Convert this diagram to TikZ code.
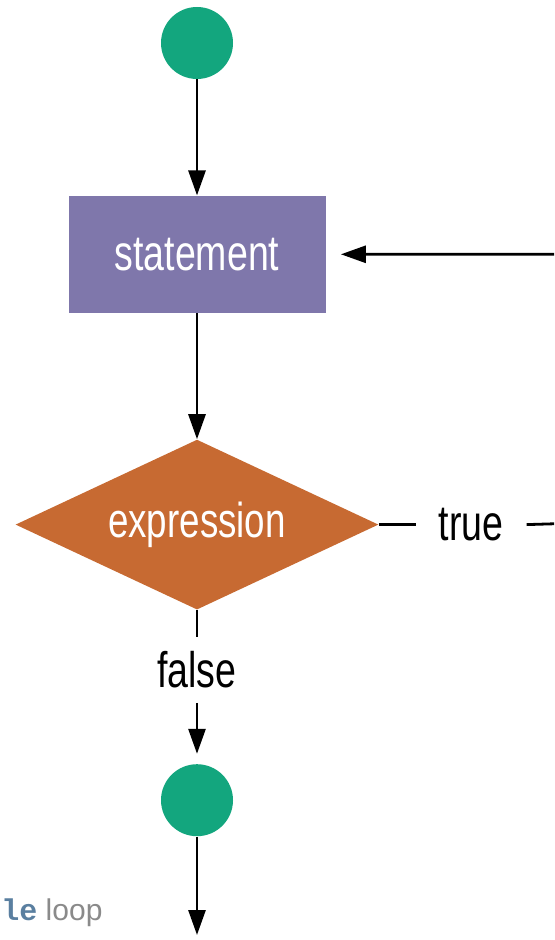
\documentclass[tikz,border=0pt]{standalone}
\usepackage{fontspec}
\setmainfont{Liberation Sans}[FakeStretch=0.75]
\newfontfamily\capfont{Liberation Sans}
\newfontfamily\codefont{Liberation Mono}
\usetikzlibrary{shapes.geometric, arrows.meta, positioning, calc}
\definecolor{colorTerm}{HTML}{13A67E}
\definecolor{colorStmt}{HTML}{7F77AB}
\definecolor{colorDec}{HTML}{C76A32}
\definecolor{colorCodigo}{HTML}{5A7FA0}
\definecolor{colorCaption}{HTML}{8A8A8A}
\begin{document}
\begin{tikzpicture}[
        x=1pt, y=1pt,
        term/.style={circle, fill=colorTerm, minimum size=36pt, inner sep=0pt},
        stmtbox/.style={rectangle, fill=colorStmt, text=white, minimum width=128.5pt,
            minimum height=58.5pt, font=\fontsize{25}{29}\selectfont},
        decision/.style={diamond, fill=colorDec, text=white, aspect=2.1, inner sep=0pt,
            minimum width=181.5pt, minimum height=85pt, font=\fontsize{24.5}{28}\selectfont},
        lbl/.style={inner sep=0pt, font=\fontsize{25}{29}\selectfont},
        rel/.style={-{Triangle[length=12.5pt,width=8.5pt]}, line width=1.4pt},
        seg/.style={line width=1.4pt}
    ]
        \clip (0,0) rectangle (277,-470);
        \node[term] (start) at (98.5,-21.5) {};
        \node[stmtbox, below=58pt of start] (stmt) {statement};
        \node[decision, below=63pt of stmt] (dec) {expression};
        \node[lbl, below=13.5pt of dec, minimum height=32.5pt] (false) {false};
        \node[term, below=30.5pt of false] (end) {};
        \node[lbl, right=18.5pt of dec, minimum width=55pt] (true) {true};
        \coordinate (turn) at (290,-261.5);
        \coordinate (exit) at (98.5,-467.5);
        \node[anchor=base west, inner sep=0pt, text=colorCaption, font=\capfont\fontsize{15}{18}\selectfont]
            (cap) at (0.5,-460) {{\codefont\bfseries\color{colorCodigo}le} loop};
        \draw[rel] (start) -- (stmt);
        \draw[rel] (stmt) -- (dec);
        \draw[seg] (dec) -- (false);
        \draw[rel, shorten >=5pt] (false) -- (end);
        \draw[rel] (end) -- (exit);
        \draw[seg] (dec) -- (true);
        \draw[rel, shorten >=7.5pt] (true.east) -- (turn) |- (stmt.east);
    \end{tikzpicture}
\end{document}
